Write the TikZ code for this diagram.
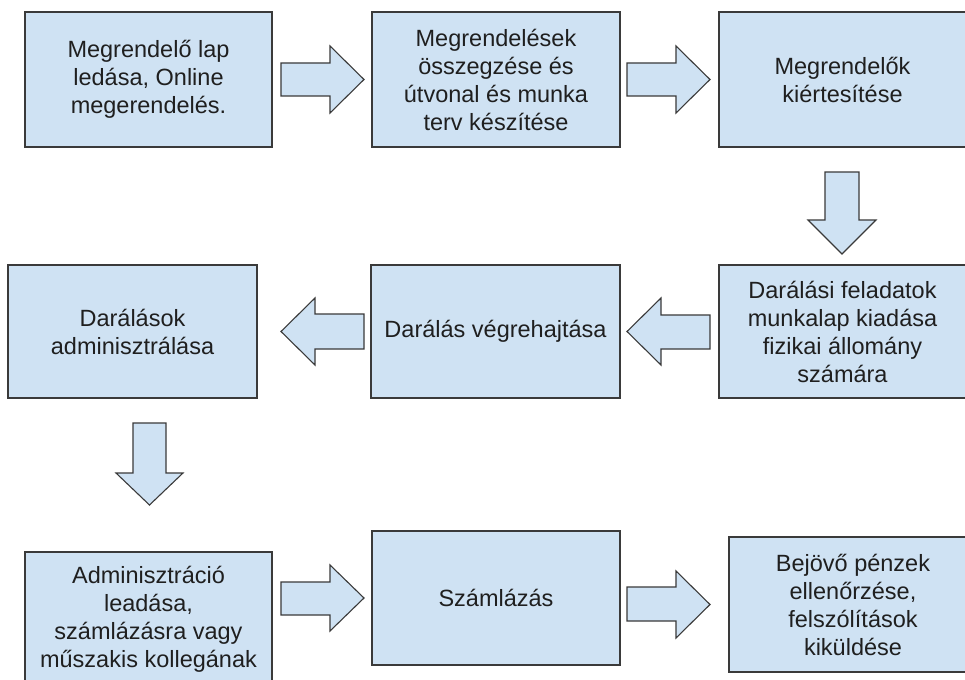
\documentclass[tikz,border=0pt]{standalone}
\usepackage{fontspec}
\setmainfont{Liberation Sans}
\definecolor{boxfill}{HTML}{CFE2F3}
\definecolor{boxline}{HTML}{3A3A3A}
\definecolor{txt}{HTML}{1F1F1F}
\begin{document}
\begin{tikzpicture}[x=1pt,y=-1pt,
  procbox/.style={rectangle, draw=boxline, fill=boxfill, line width=1.1pt,
    align=center, inner sep=0pt, text=txt,
    font=\fontsize{23.5}{28}\selectfont},
  blockarrow/.style={draw=boxline, fill=boxfill, line width=1.1pt, line join=miter}]
\useasboundingbox (0,0) rectangle (965,679);
\clip (0,0) rectangle (965,679);
\fill[white] (0,0) rectangle (965,679);
% boxes: centre = ((l+r)/2,(t+b)/2)
\node[procbox, minimum width=247pt, minimum height=135pt] (b1) at (148.5,79.5) {Megrendelő lap\\ledása, Online\\megerendelés.};
\node[procbox, minimum width=248pt, minimum height=135pt] (b2) at (496,79.5) {Megrendelések\\összegzése és\\útvonal és munka\\terv készítése};
\node[procbox, minimum width=247pt, minimum height=135pt] (b3) at (842.5,79.5) {Megrendelők\\kiértesítése};
\node[procbox, minimum width=249pt, minimum height=133pt] (b4) at (132.5,331.5) {Darálások\\adminisztrálása};
\node[procbox, minimum width=249pt, minimum height=133pt] (b5) at (495.5,331.5) {Darálás végrehajtása};
\node[procbox, minimum width=247pt, minimum height=133pt] (b6) at (842.5,331.5) {Darálási feladatok\\munkalap kiadása\\fizikai állomány\\számára};
\node[procbox, minimum width=247pt, minimum height=135pt] (b7) at (148.5,619.5) {Adminisztráció\\leadása,\\számlázásra vagy\\műszakis kollegának};
\node[procbox, minimum width=248pt, minimum height=134pt] (b8) at (496,598) {Számlázás};
\node[procbox, minimum width=248pt, minimum height=135pt] (b9) at (853,604.5) {Bejövő pénzek\\ellenőrzése,\\felszólítások\\kiküldése};
% block arrows
\draw[blockarrow] (281,63) -- (330,63) -- (330,46) -- (364,79.5) -- (330,113) -- (330,96) -- (281,96) -- cycle;
\draw[blockarrow] (627,63) -- (676,63) -- (676,46) -- (710,79.5) -- (676,113) -- (676,96) -- (627,96) -- cycle;
\draw[blockarrow] (825,172) -- (859,172) -- (859,220) -- (876,220) -- (842,254) -- (808,220) -- (825,220) -- cycle;
\draw[blockarrow] (364,314) -- (315,314) -- (315,298) -- (281,331.5) -- (315,365) -- (315,349) -- (364,349) -- cycle;
\draw[blockarrow] (710,315) -- (661,315) -- (661,298) -- (627,331.5) -- (661,365) -- (661,349) -- (710,349) -- cycle;
\draw[blockarrow] (133,423) -- (166,423) -- (166,473) -- (183,473) -- (149.5,505) -- (116,473) -- (133,473) -- cycle;
\draw[blockarrow] (281,582) -- (330,582) -- (330,565) -- (364,598) -- (330,631) -- (330,615) -- (281,615) -- cycle;
\draw[blockarrow] (627,587) -- (676,587) -- (676,571) -- (710,604.5) -- (676,638) -- (676,621) -- (627,621) -- cycle;
\end{tikzpicture}
\end{document}
